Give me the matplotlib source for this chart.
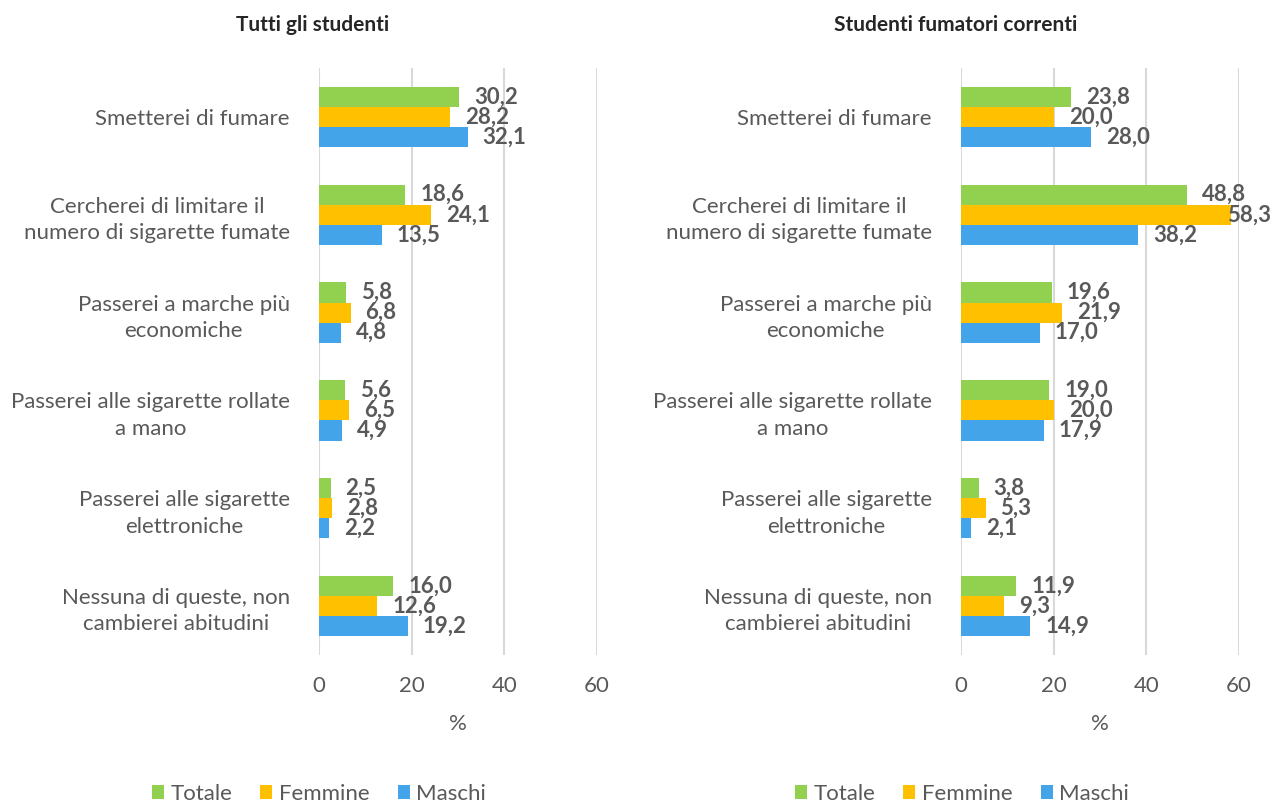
import numpy as np
import matplotlib
matplotlib.use('Agg')
import matplotlib.pyplot as plt
from matplotlib.patches import Patch

plt.rcParams['font.family'] = ['Lato', 'DejaVu Sans']

categories = ['Smetterei di fumare',
              'Cercherei di limitare il\nnumero di sigarette fumate',
              'Passerei a marche più\neconomiche',
              'Passerei alle sigarette rollate\na mano',
              'Passerei alle sigarette\nelettroniche',
              'Nessuna di queste, non\ncambierei abitudini']
series = ['Totale', 'Femmine', 'Maschi']
colors = ['#92D050', '#FFC000', '#44A4EA']

tutti_totale = [30.2, 18.6, 5.8, 5.6, 2.5, 16.0]
tutti_femmine = [28.2, 24.1, 6.8, 6.5, 2.8, 12.6]
tutti_maschi = [32.1, 13.5, 4.8, 4.9, 2.2, 19.2]

fumatori_totale = [23.8, 48.8, 19.6, 19.0, 3.8, 11.9]
fumatori_femmine = [20.0, 58.3, 21.9, 20.0, 5.3, 9.3]
fumatori_maschi = [28.0, 38.2, 17.0, 17.9, 2.1, 14.9]

text_gray = '#595959'
grid_gray = '#D9D9D9'
fs = 16

fig = plt.figure(figsize=(12.72, 8.05), dpi=100)


def draw_panel(ax, data, title, title_x):
    y = np.arange(len(categories))
    h = 0.205
    for k, (vals, col) in enumerate(zip(data, colors)):
        pos = y + (k - 1) * h
        bars = ax.barh(pos, vals, height=h, color=col, zorder=3)
        for b, v in zip(bars, vals):
            # labels that would run off the page tuck back over the bar end
            off = -4 if v > 55 else 15
            ax.annotate(f'{v:.1f}'.replace('.', ','),
                        xy=(b.get_width(), b.get_y() + h / 2),
                        xytext=(off, 0), textcoords='offset pixels',
                        ha='left', va='center', fontsize=fs,
                        fontweight='bold', color=text_gray, zorder=4,
                        annotation_clip=False)
    ax.set_ylim(len(categories) - 0.5, -0.5)
    ax.set_xlim(0, 60)
    ax.set_xticks([0, 20, 40, 60])
    ax.set_yticks(y)
    ax.set_yticklabels(categories, fontsize=fs, color=text_gray,
                       ha='right', linespacing=1.4)
    for lab in ax.get_yticklabels():
        lab.set_multialignment('center')
    ax.tick_params(axis='y', length=0, pad=21)
    ax.tick_params(axis='x', length=0, pad=15, labelsize=fs,
                   labelcolor=text_gray)
    ax.xaxis.grid(True, color=grid_gray, linewidth=1.5, zorder=0)
    for s in ax.spines.values():
        s.set_visible(False)
    ax.set_xlabel('%', fontsize=fs, color=text_gray, labelpad=13)
    fig.text(title_x, 1 - 25 / 805, title, ha='center', va='center',
             fontsize=15, fontweight='bold', color='#262626')
    handles = [Patch(facecolor=c, label=s) for s, c in zip(series, colors)]
    ax.legend(handles=handles, loc='center', ncol=3, frameon=False,
              bbox_to_anchor=(title_x + 6 / 1272, 1 - 794 / 805),
              bbox_transform=fig.transFigure, fontsize=fs,
              labelcolor=text_gray, handlelength=0.55, handleheight=0.55,
              handletextpad=0.3, columnspacing=1.25)


ax1 = fig.add_axes([319 / 1272, 150 / 805, 278 / 1272, 587 / 805])
draw_panel(ax1, [tutti_totale, tutti_femmine, tutti_maschi],
           'Tutti gli studenti', 313 / 1272)

ax2 = fig.add_axes([961 / 1272, 150 / 805, 278 / 1272, 587 / 805])
draw_panel(ax2, [fumatori_totale, fumatori_femmine, fumatori_maschi],
           'Studenti fumatori correnti', 956 / 1272)

fig.savefig('out.png', dpi=100)
